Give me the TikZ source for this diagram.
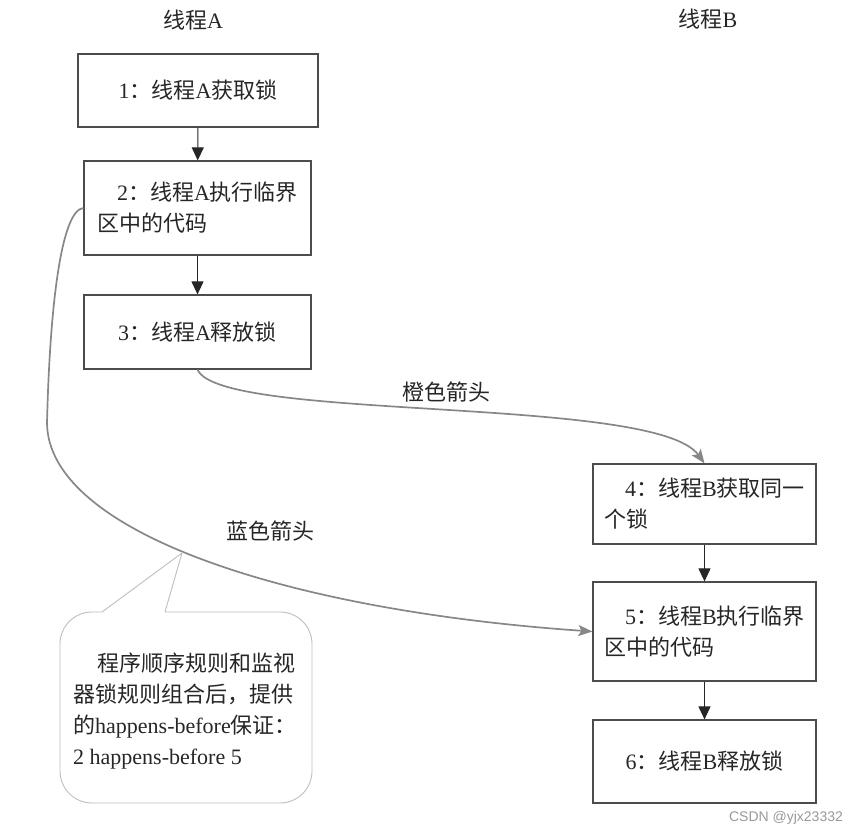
\documentclass[tikz,border=0pt]{standalone}
\usepackage{fontspec}
\setmainfont{Liberation Serif}
\newfontfamily\cjk{Noto Sans CJK SC}
\newfontfamily\wmfont{Liberation Sans}
\usetikzlibrary{arrows.meta}
\newcommand{\zh}[1]{{\cjk #1}}
\definecolor{linkgray}{RGB}{135,135,135}
\definecolor{notegray}{RGB}{190,190,190}

\tikzset{
  procbox/.style={draw=black!70, line width=1.2pt, align=left, inner sep=0pt},
  flow/.style={-{Triangle[length=13pt,width=12pt]}, line width=1pt, black!85},
  hb/.style={-{Stealth[length=14pt,width=11pt,inset=3pt]}, line width=1.7pt, linkgray},
  callout/.style={draw=notegray, line width=0.9pt}
}

\begin{document}
\begin{tikzpicture}[x=1pt,y=-1pt,
    every node/.style={font=\fontsize{22}{31}\selectfont, text=black!85}]
    \useasboundingbox (0,0) rectangle (854,835);

    % thread titles
    \node (tA) at (193,20) {\zh{线程}A};
    \node (tB) at (708,19) {\zh{线程}B};

    % thread A
    \node[procbox, minimum width=240pt, minimum height=73pt] (a1) at (198,90.5)
        {1\zh{：线程}A\zh{获取锁}};
    \node[procbox, minimum width=227pt, minimum height=94pt] (a2) at (197.5,208)
        {\hspace*{20pt}2\zh{：线程}A\zh{执行临界}\\\zh{区中的代码}};
    \node[procbox, minimum width=227pt, minimum height=74pt] (a3) at (197.5,332)
        {3\zh{：线程}A\zh{释放锁}};

    % thread B
    \node[procbox, minimum width=223pt, minimum height=80pt] (b4) at (704.5,504)
        {\hspace*{21pt}4\zh{：线程}B\zh{获取同一}\\\zh{个锁}};
    \node[procbox, minimum width=223pt, minimum height=99pt] (b5) at (704.5,631.5)
        {\hspace*{21pt}5\zh{：线程}B\zh{执行临界}\\\zh{区中的代码}};
    \node[procbox, minimum width=223pt, minimum height=83pt] (b6) at (704.5,761.5)
        {6\zh{：线程}B\zh{释放锁}};

    \draw[flow] (a1) -- (a2);
    \draw[flow] (a2) -- (a3);
    \draw[flow] (b4) -- (b5);
    \draw[flow] (b5) -- (b6);

    % happens-before links
    \draw[hb] (a3.south) .. controls (220,422) and (655,395) .. (b4.north);
    \draw[hb] (a2.west) .. controls (62,210) and (50,300) .. (47,423)
        .. controls (48,530) and (280,610) .. (b5.west);
    \node (orangelbl) at (446,392) {\zh{橙色箭头}};
    \node (bluelbl) at (270,531) {\zh{蓝色箭头}};

    % note bubble
    \draw[callout] (165,612) -- (182,553) -- (102,612) [rounded corners=32pt]
        -- (60,612) -- (60,803) -- (312,803) -- (312,612) -- (165,612);
    \node[align=left, inner sep=0pt] (note) at (185,711)
        {\hspace*{24pt}\zh{程序顺序规则和监视}\\\zh{器锁规则组合后，提供}\\
         \zh{的}happens-before\zh{保证：}\\2 happens-before 5};

    \node[font=\wmfont\fontsize{14}{16}\selectfont, text=black!40] (wm) at (786,818) {CSDN @yjx23332};
\end{tikzpicture}
\end{document}
